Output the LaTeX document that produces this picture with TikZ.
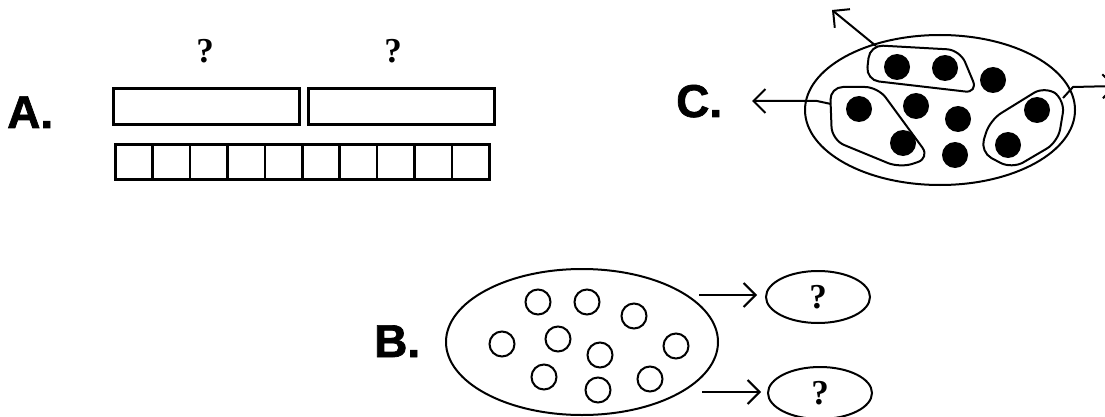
\documentclass[tikz,border=0pt]{standalone}
\usepackage{fontspec}
\setmainfont{Liberation Serif}
\newfontfamily\labelfont[BoldFeatures={FakeBold=1.5}]{Liberation Sans}
\usetikzlibrary{arrows.meta,shapes.geometric}

\begin{document}
\begin{tikzpicture}[x=1pt,y=-1pt,
  ink/.style={draw=black,line width=2pt},
  barbox/.style={ink,line width=2.6pt,rectangle,minimum width=186pt,minimum height=36pt,inner sep=0pt,anchor=north west},
  cell/.style={ink,line width=2.6pt,rectangle,minimum width=37.4pt,minimum height=35pt,inner sep=0pt,anchor=north west},
  letter/.style={font=\labelfont\bfseries\fontsize{46}{46}\selectfont,inner sep=0pt,anchor=base west},
  qmark/.style={font=\bfseries\fontsize{35}{35}\selectfont,inner sep=0pt},
  dot/.style={circle,fill=black,minimum size=26pt,inner sep=0pt},
  ring/.style={circle,draw=black,line width=2pt,minimum size=25pt,inner sep=0pt},
  oval/.style={ellipse,ink,inner sep=0pt},
  group/.style={ink,rounded corners=13pt},
  barb/.style={ink,-{Straight Barb[length=12pt,width=24pt]}}
]
\clip (0,0) rectangle (1105,417);

% ---------- A: two bars over ten cells ----------
\node[letter] (labA) at (7,128) {A.};
\node[barbox] (barL) at (112,87) {};
\node[barbox] (barR) at (307,87) {};
\node[qmark,anchor=base] (qL) at (205,63) {?};
\node[qmark,anchor=base] (qR) at (393,63) {?};
\foreach \i in {0,...,9}
  \node[cell] (sq\i) at ({114+37.4*\i},143) {};

% ---------- C: set with three marked groups ----------
\node[letter] (labC) at (676,117) {C.};
\node[oval,minimum width=270pt,minimum height=150pt] (setC) at (940,110) {};
\foreach \n/\p in {1/{(897,67)},2/{(945,68)},3/{(993,80)},4/{(916,106)},5/{(859,109)},
                   6/{(958,119)},7/{(903,143)},8/{(955,155)},9/{(1037,110)},10/{(1008,145)}}
  \node[dot] (d\n) at \p {};
% grouping outlines
\draw[group] (870,45) -- (960,50) -- (978,93) -- (866,80) -- cycle;
\draw[group] (830,87) -- (878,87) -- (930,158) -- (900,168) -- (832,140) -- cycle;
\draw[group] (1045,86) -- (1065,100) -- (1058,142) -- (1012,169) -- (980,152) -- (990,120) -- cycle;
% leaving arrows
\coordinate (gTop) at (876,46);
\coordinate (outTop) at (832,10);
\coordinate (gLeft) at (831,104);
\coordinate (bendLeft) at (817,101);
\coordinate (outLeft) at (752,101);
\coordinate (gRight) at (1063,98);
\coordinate (bendRight) at (1073,87);
\coordinate (outRight) at (1116,86);
\draw[barb] (gTop) -- (outTop);
\draw[barb] (gLeft) -- (bendLeft) -- (outLeft);
\draw[barb] (gRight) -- (bendRight) -- (outRight);

% ---------- B: set splitting into two parts ----------
\node[letter] (labB) at (374,357) {B.};
\node[oval,minimum width=272pt,minimum height=146pt] (setB) at (582,342) {};
\foreach \n/\p in {1/{(538,302)},2/{(587,302)},3/{(634,316)},4/{(502,344)},5/{(558,339)},
                   6/{(600,355)},7/{(676,346)},8/{(544,377)},9/{(598,390)},10/{(650,379)}}
  \node[ring] (r\n) at \p {};
\node[oval,qmark,minimum width=104pt,minimum height=52pt] (partU) at (818,297) {?};
\node[oval,qmark,minimum width=104pt,minimum height=52pt] (partD) at (820,393) {?};
\coordinate (fromU) at (699,295);
\coordinate (fromD) at (702,392);
\draw[barb,shorten >=8pt] (fromU) -- (fromU -| partU.west);
\draw[barb,shorten >=6pt] (fromD) -- (fromD -| partD.west);
\end{tikzpicture}
\end{document}
